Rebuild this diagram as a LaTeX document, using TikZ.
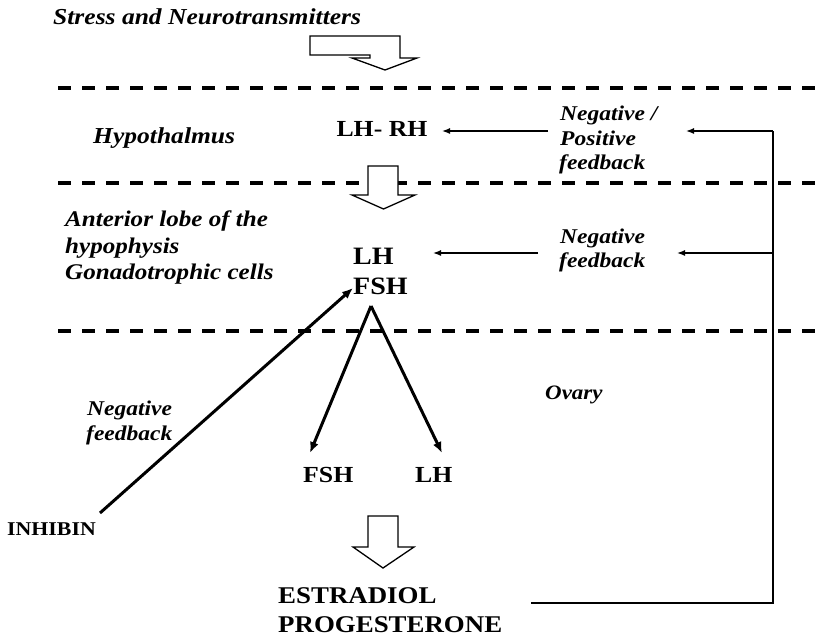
\documentclass[tikz,border=0pt]{standalone}
\usepackage{fontspec}
\setmainfont{Liberation Serif}[FakeStretch=1.12]
\usetikzlibrary{arrows.meta}
\tikzset{
  itl/.style={font=\fontsize{#1}{#1}\selectfont\bfseries\itshape, anchor=base west, inner sep=0pt},
  bld/.style={font=\fontsize{#1}{#1}\selectfont\bfseries, anchor=base west, inner sep=0pt},
  sep/.style={line width=4.3pt, dash pattern=on 13pt off 11pt},
  thin/.style={line width=1.4pt},
  fb/.style={line width=1.4pt, -{Latex[length=8pt,width=6pt]}},
  thick/.style={line width=3pt, -{Latex[length=11pt,width=9pt]}},
  block/.style={line width=1.3pt, fill=white, line join=miter}
}
\begin{document}
\begin{tikzpicture}[x=1pt,y=-1pt]
\useasboundingbox (0,0) rectangle (822,636);
% separators
\draw[sep] (58,88) -- (822,88);
\draw[sep] (58,183) -- (822,183);
\draw[sep] (58,331) -- (822,331);
% texts
\node[itl=22.8] (stress) at (53,25) {Stress and Neurotransmitters};
\node[itl=22.8] (hyp) at (93,144) {Hypothalmus};
\node[itl=22.4] (ant1) at (65,227) {Anterior lobe of the};
\node[itl=22.4] (ant2) at (65,253.5) {hypophysis};
\node[itl=22.4] (ant3) at (65,280) {Gonadotrophic cells};
\node[itl=21] (np1) at (560,121) {Negative /};
\node[itl=21] (np2) at (560,145.5) {Positive};
\node[itl=21] (np3) at (559,170) {feedback};
\node[itl=21] (nf1) at (560,244) {Negative};
\node[itl=21] (nf2) at (559,268) {feedback};
\node[itl=21] (lf1) at (87,415) {Negative};
\node[itl=21] (lf2) at (86,440) {feedback};
\node[itl=20.5] (ovary) at (545,399) {Ovary};
\node[bld=23, anchor=base] (lhrh) at (382,137) {LH- RH};
\node[bld=25] (lh) at (353,265) {LH};
\node[bld=25] (fsh) at (353,295) {FSH};
\node[bld=23] (fshb) at (303,482) {FSH};
\node[bld=23] (lhb) at (415,482) {LH};
\node[bld=19.5] (inh) at (7,535) {INHIBIN};
\node[bld=24] (estr) at (278,603) {ESTRADIOL};
\node[bld=24] (prog) at (278,632) {PROGESTERONE};
% coordinates
\coordinate (apex) at (371,306);
\coordinate (tipF) at (310,453);
\coordinate (tipL) at (442,453);
\coordinate (inhS) at (100,513);
\coordinate (inhT) at (353,288);
\coordinate (v1) at (773,131);
\coordinate (v2) at (773,253);
\coordinate (v3) at (773,603);
\coordinate (h3) at (531,603);
\coordinate (a1e) at (686,131);
\coordinate (a1s) at (548,131);
\coordinate (a1t) at (442,131);
\coordinate (a2e) at (677,253);
\coordinate (a2s) at (538,253);
\coordinate (a2t) at (433,253);
% feedback lines
\draw[thin] (h3) -- (v3) -- (v1);
\draw[fb] (v1) -- (a1e);
\draw[fb] (a1s) -- (a1t);
\draw[fb] (v2) -- (a2e);
\draw[fb] (a2s) -- (a2t);
% thick arrows
\draw[thick] (inhS) -- (inhT);
\draw[thick] (apex) -- (tipF);
\draw[thick] (apex) -- (tipL);
% block arrows
\draw[block] (310,36) -- (400,36) -- (400,58) -- (417,58) -- (385,70) -- (352,58) -- (370,58) -- (370,55) -- (310,55) -- cycle;
\draw[block] (368,166) -- (398,166) -- (398,195) -- (415,195) -- (383.5,209) -- (352,195) -- (368,195) -- cycle;
\draw[block] (368,516) -- (398,516) -- (398,547) -- (414,547) -- (383,568) -- (353,547) -- (368,547) -- cycle;
\end{tikzpicture}
\end{document}
